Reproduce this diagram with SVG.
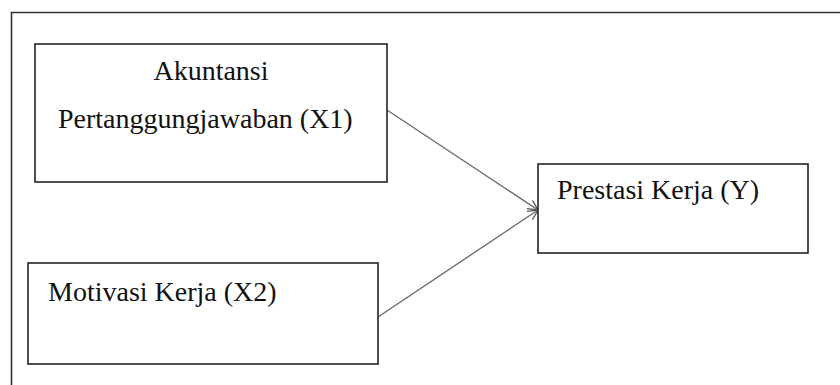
<svg xmlns="http://www.w3.org/2000/svg" width="840" height="385" viewBox="0 0 840 385">
<style>
.box{fill:#fff;stroke:#222;stroke-width:1.6}
.lbl{font-family:"Liberation Serif","Times New Roman",serif;font-size:28px;fill:#111}
.conn{stroke:#666;stroke-width:1.3;fill:none}
</style>
<defs>
<marker id="arr" viewBox="0 0 12 12" refX="11" refY="6" markerWidth="12" markerHeight="12" markerUnits="userSpaceOnUse" orient="auto">
<path d="M1,1 L11,6 L1,11" fill="none" stroke="#555" stroke-width="1.3"/>
</marker>
</defs>
<rect width="840" height="385" fill="#fff"/>
<path d="M11.5,385 V12.5 H840" fill="none" stroke="#333" stroke-width="1.6"/>
<g id="connectors">
<line class="conn" x1="387" y1="110" x2="538" y2="210" marker-end="url(#arr)"/>
<line class="conn" x1="378" y1="317" x2="538" y2="210" marker-end="url(#arr)"/>
</g>
<g id="x1">
<rect class="box" x="35" y="44" width="352" height="138"/>
<text class="lbl" x="211" y="80" text-anchor="middle">Akuntansi</text>
<text class="lbl" x="58" y="128">Pertanggungjawaban (X1)</text>
</g>
<g id="x2">
<rect class="box" x="28" y="263" width="350" height="101"/>
<text class="lbl" x="48" y="301">Motivasi Kerja (X2)</text>
</g>
<g id="y">
<rect class="box" x="538" y="164" width="270" height="89"/>
<text class="lbl" x="557" y="199">Prestasi Kerja (Y)</text>
</g>
</svg>
